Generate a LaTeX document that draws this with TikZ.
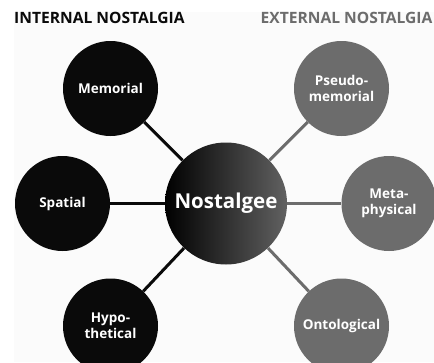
\documentclass[tikz,border=0pt]{standalone}
\usepackage{fontspec}
\setmainfont{Open Sans}
\usetikzlibrary{backgrounds}
\definecolor{inkdark}{HTML}{0A0A0A}
\definecolor{inkgrey}{HTML}{6C6C6C}
\definecolor{bgpale}{HTML}{FBFBFB}
\tikzset{
  bubble/.style={circle, minimum size=95pt, inner sep=0pt, text=white,
    font=\bfseries\fontsize{13.5}{16}\selectfont, align=center},
  inbubble/.style={bubble, fill=inkdark},
  exbubble/.style={bubble, fill=inkgrey},
  hubbubble/.style={circle, minimum size=122pt, inner sep=0pt, text=white,
    font=\bfseries\fontsize{20.5}{24}\selectfont,
    left color=black, right color=black!62},
  inlink/.style={line width=3pt, draw=inkdark},
  exlink/.style={line width=3pt, draw=inkgrey},
  header/.style={anchor=base west, inner sep=0pt, font=\bfseries\fontsize{15.6}{18}\selectfont}
}
\begin{document}
\begin{tikzpicture}[x=1pt,y=-1pt]
\useasboundingbox (0,0) rectangle (434,362);
\node[header, text=inkdark] (hin) at (14,23.5) {INTERNAL NOSTALGIA};
\node[header, text=inkgrey] (hex) at (260.5,23.5) {EXTERNAL NOSTALGIA};
\node[hubbubble] (hub) at (226,203.5) {Nostalgee};
\node[inbubble] (mem) at (110.5,88.5) {Memorial};
\node[inbubble] (spa) at (62.5,203.5) {Spatial};
\node[inbubble] (hyp) at (110.5,326) {Hypo-\\thetical};
\node[exbubble] (pse) at (341.5,88.5) {Pseudo-\\memorial};
\node[exbubble] (met) at (389,203.5) {Meta-\\physical};
\node[exbubble] (ont) at (341.5,326) {Ontological};
\begin{scope}[on background layer]
  \fill[bgpale] (14,12) rectangle (434,362);
  \draw[inlink] (hub) -- (mem);
  \draw[inlink] (hub) -- (spa);
  \draw[inlink] (hub) -- (hyp);
  \draw[exlink] (hub) -- (pse);
  \draw[exlink] (hub) -- (met);
  \draw[exlink] (hub) -- (ont);
\end{scope}
\end{tikzpicture}
\end{document}
